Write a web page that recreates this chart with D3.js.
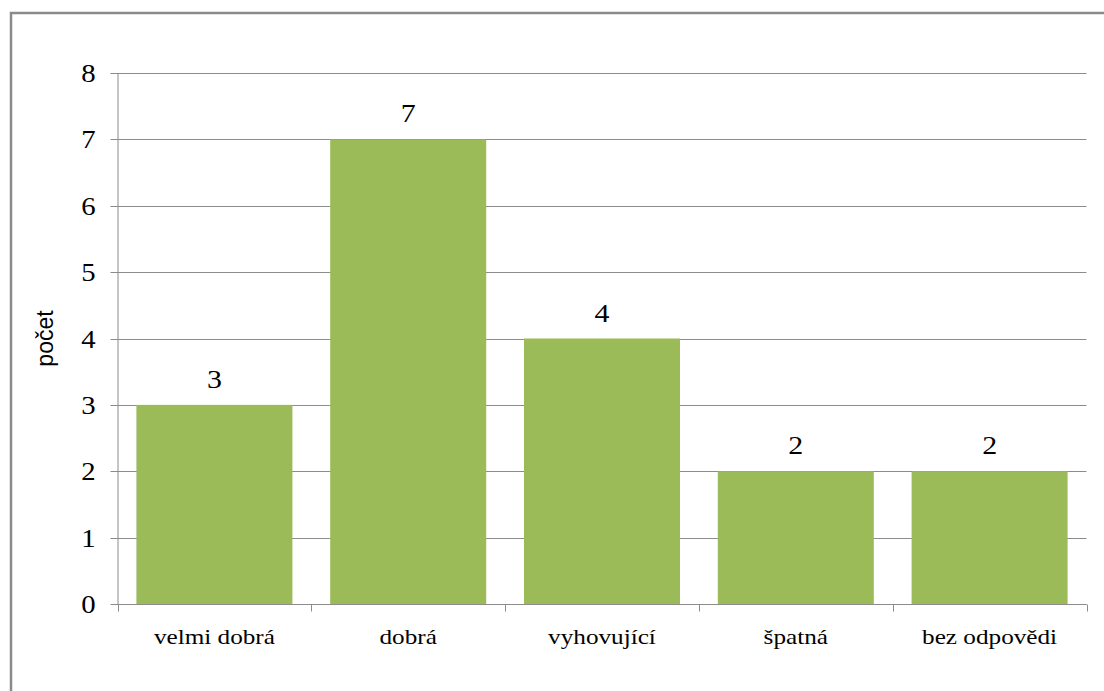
<!DOCTYPE html>
<html><head><meta charset="utf-8">
<script src="https://cdn.jsdelivr.net/npm/d3@7"></script>
<style>body{margin:0;background:#fff}svg{display:block}</style>
</head><body>
<svg id="c" width="1104" height="691"></svg>
<script>
const categories = ["velmi dobrá", "dobrá", "vyhovující", "špatná", "bez odpovědi"];
const values = [3, 7, 4, 2, 2];
const yTicks = [0, 1, 2, 3, 4, 5, 6, 7, 8];
const yTitle = "počet";

const SERIF = "Liberation Serif";
const SANS = "Liberation Sans";
const svg = d3.select("#c");
svg.append("rect").attr("x", 11).attr("y", 13).attr("width", 1110).attr("height", 700)
  .attr("fill", "#fff").attr("stroke", "#8a8a8a").attr("stroke-width", 2.5);

const L = 117.5, R = 1086.5, T = 73, B = 604;
const x = d3.scaleBand().domain(categories).range([L, R]).paddingInner(0.195).paddingOuter(0.0975);
const y = d3.scaleLinear().domain([0, 8]).range([B, T]);

// gridlines
svg.append("g").selectAll("line").data(yTicks).join("line")
  .attr("x1", L - 7).attr("x2", R).attr("y1", d => Math.round(y(d)) + 0.5).attr("y2", d => Math.round(y(d)) + 0.5)
  .attr("stroke", "#8c8c8c").attr("stroke-width", 1);

// bars
svg.append("g").selectAll("rect").data(values).join("rect")
  .attr("x", (d, i) => x(categories[i])).attr("width", x.bandwidth())
  .attr("y", d => y(d)).attr("height", d => B - y(d)).attr("fill", "#9BBB59");

// y axis
const ya = svg.append("g").attr("transform", `translate(${L},0)`)
  .call(d3.axisLeft(y).tickValues(yTicks).tickSize(0).tickPadding(22).tickFormat(d3.format("d")));
ya.attr("font-family", SERIF).attr("font-size", 25);
ya.select(".domain").attr("stroke", "#8c8c8c").attr("d", `M0.5,${T}V${B}`);
ya.selectAll(".tick text").attr("x", null).attr("dy", "0.34em")
  .attr("transform", "translate(-22,0) scale(1.15,1)")
  .attr("font-family", SERIF).attr("font-size", 25).attr("fill", "#000");

// x axis
const xa = svg.append("g").attr("transform", `translate(0,${Math.round(B) + 0.5})`);
xa.append("line").attr("x1", L).attr("x2", R).attr("stroke", "#8c8c8c");
const bounds = categories.map(c => x(c) - x.step() * x.paddingInner() / 2).concat([R]);
xa.selectAll("line.t").data(bounds).join("line").attr("class", "t")
  .attr("x1", d => Math.round(d) + 0.5).attr("x2", d => Math.round(d) + 0.5).attr("y1", 0).attr("y2", 7)
  .attr("stroke", "#8c8c8c");
xa.selectAll("text").data(categories).join("text")
  .attr("transform", d => `translate(${x(d) + x.bandwidth() / 2},39) scale(1.2,1)`)
  .attr("text-anchor", "middle")
  .attr("font-family", SERIF).attr("font-size", 21).attr("fill", "#000").text(d => d);

// data labels
svg.append("g").selectAll("text").data(values).join("text")
  .attr("transform", (d, i) => `translate(${x(categories[i]) + x.bandwidth() / 2},${y(d) - 17}) scale(1.15,1)`)
  .attr("text-anchor", "middle").attr("font-family", SERIF).attr("font-size", 26).attr("fill", "#000")
  .text(d => d);

// y title
svg.append("text").attr("transform", `translate(53,338.5) rotate(-90)`)
  .attr("text-anchor", "middle").attr("font-family", SANS)
  .attr("font-size", 23).attr("fill", "#000").text(yTitle);
</script>
</body></html>
